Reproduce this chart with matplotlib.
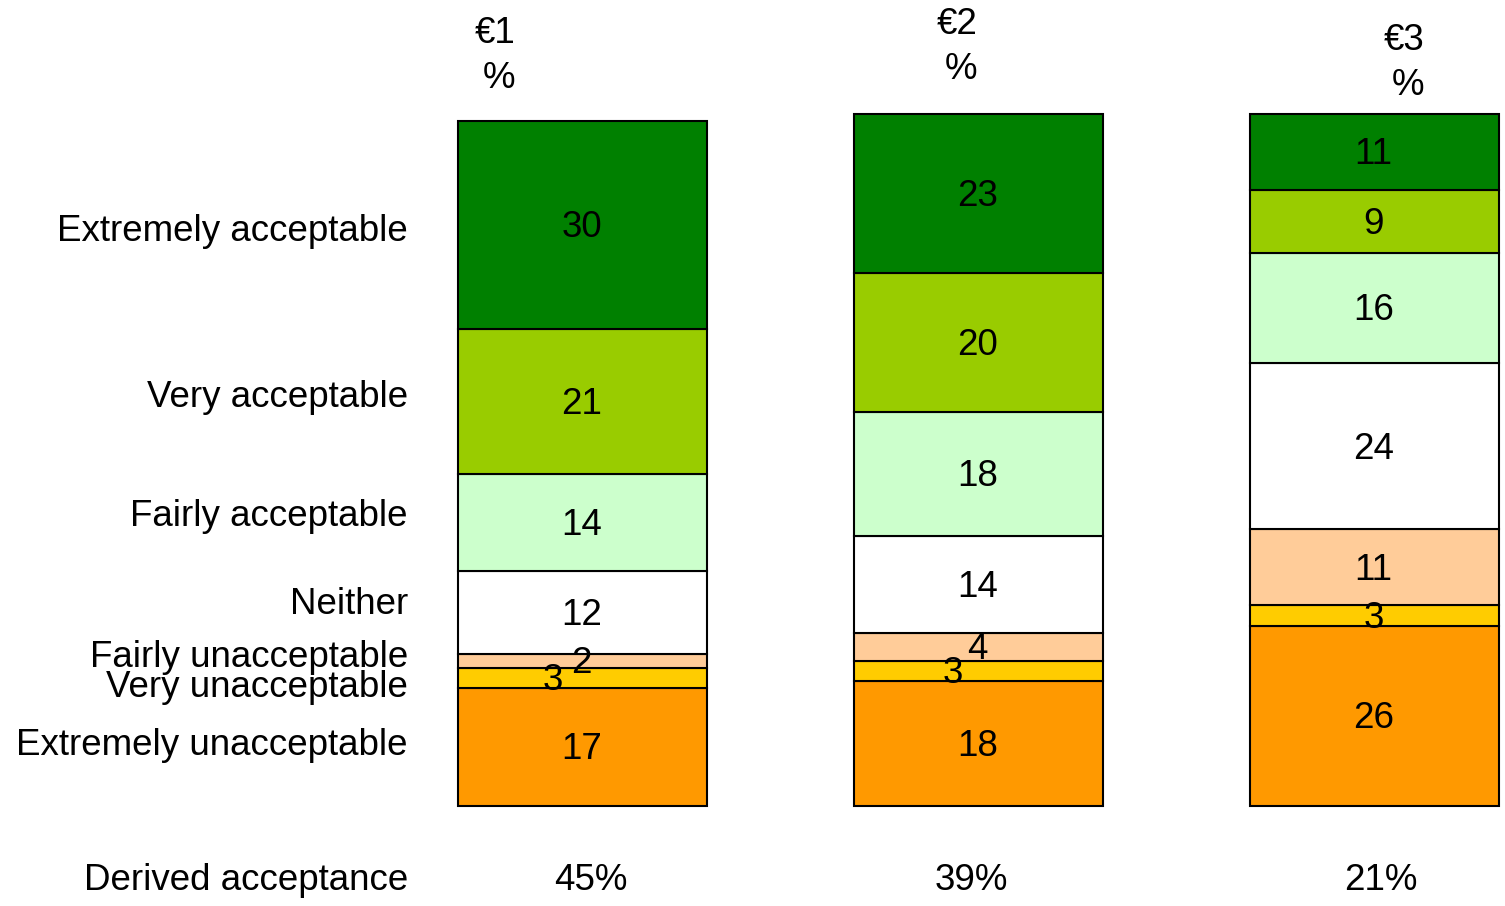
import matplotlib
matplotlib.use('Agg')
import matplotlib.pyplot as plt
import numpy as np

plt.rcParams['font.family'] = ['Liberation Sans', 'DejaVu Sans']

# data
categories = ['Extremely acceptable', 'Very acceptable', 'Fairly acceptable', 'Neither',
              'Fairly unacceptable', 'Very unacceptable', 'Extremely unacceptable']
prices = ['€1', '€2', '€3']
vals_1 = [30, 21, 14, 12, 2, 3, 17]
vals_2 = [23, 20, 18, 14, 4, 3, 18]
vals_3 = [11, 9, 16, 24, 11, 3, 26]
derived = ['45%', '39%', '21%']

colors = ['#008000', '#99CC00', '#CCFFCC', '#FFFFFF', '#FFCC99', '#FFCC00', '#FF9900']

# layout bits (data units of the bar axes)
label_y = [83.5, 59.4, 42.3, 29.6, 21.8, 17.6, 9.1]
head_pos = [(-0.221, 112.1), (0.946, 113.3), (2.075, 111.0)]
derived_x = [0.021, 0.983, 2.016]
shift_left = {(0, 5): -0.073, (1, 5): -0.063}
dy = -0.4  # nudge text down a touch

fig = plt.figure(figsize=(15.05, 9.06), dpi=100)
ax = fig.add_axes([0, 0, 1, 1])
ax.set_xlim(-1.471, 2.330)
ax.set_ylim(-14.45, 116.5)
ax.axis('off')

fs = 26.5
all_vals = [vals_1, vals_2, vals_3]
for i, vals in enumerate(all_vals):
    # stack from the bottom: last category at the bottom
    bottom = 0
    for j in range(len(vals) - 1, -1, -1):
        v = vals[j]
        ax.bar(i, v, bottom=bottom, width=0.629, color=colors[j],
               edgecolor='black', linewidth=1.5)
        dx = shift_left.get((i, j), 0)
        ax.text(i + dx - 0.002, bottom + v / 2 + dy, str(v), ha='center', va='center', fontsize=fs)
        bottom += v
    hx, hy = head_pos[i]
    ax.text(hx, hy + dy, prices[i], ha='center', va='center', fontsize=fs)
    ax.text(hx + 0.01, hy - 6.5 + dy, '%', ha='center', va='center', fontsize=fs)
    ax.text(derived_x[i], -10.4 + dy, derived[i], ha='center', va='center', fontsize=fs)

for c, y in zip(categories, label_y):
    ax.text(-0.4407, y + dy, c, ha='right', va='center', fontsize=fs)
ax.text(-0.4407, -10.4 + dy, 'Derived acceptance', ha='right', va='center', fontsize=fs)

plt.savefig('out.png', dpi=100)
